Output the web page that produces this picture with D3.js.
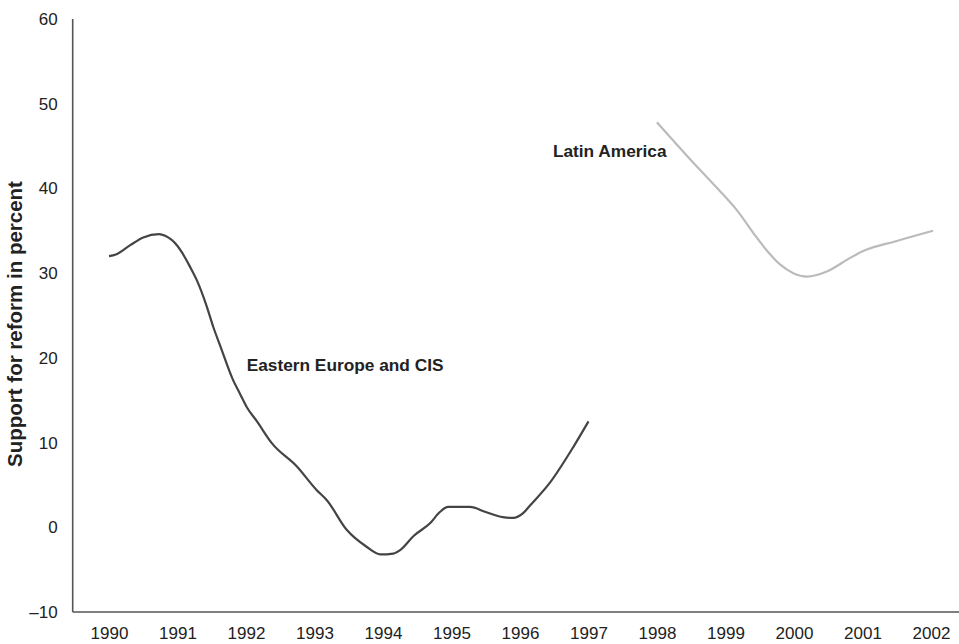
<!DOCTYPE html>
<html>
<head>
<meta charset="utf-8">
<script src="https://cdn.jsdelivr.net/npm/d3@7"></script>
<style>
  html, body { margin: 0; padding: 0; background: #fff; }
  svg { display: block; font-family: "Liberation Sans", Arial, Helvetica, sans-serif; }
</style>
</head>
<body>
<svg id="chart" width="959" height="644"></svg>
<script>
const xTicks = [1990, 1991, 1992, 1993, 1994, 1995, 1996, 1997, 1998, 1999, 2000, 2001, 2002];
const yTicks = [-10, 0, 10, 20, 30, 40, 50, 60];

const eeYears = [1990.0, 1990.1, 1990.31, 1990.5, 1990.73, 1990.82, 1991.0, 1991.06, 1991.18, 1991.28, 1991.43, 1991.52, 1991.62, 1991.81, 1991.91, 1992.01, 1992.16, 1992.38, 1992.74, 1993.03, 1993.18, 1993.47, 1993.76, 1993.96, 1994.15, 1994.25, 1994.45, 1994.69, 1994.83, 1994.95, 1995.27, 1995.5, 1995.75, 1995.9, 1996.05, 1996.15, 1996.44, 1996.78, 1997.0];
const eeValues = [32.0, 32.2, 33.3, 34.2, 34.6, 34.4, 33.2, 32.5, 30.8, 29.2, 26.0, 23.7, 21.5, 17.4, 15.8, 14.2, 12.5, 9.9, 7.2, 4.4, 3.2, -0.3, -2.3, -3.2, -3.1, -2.7, -1.0, 0.5, 1.8, 2.4, 2.4, 1.8, 1.2, 1.1, 1.7, 2.6, 5.3, 9.5, 12.5];

const laYears = [1998.0, 1998.5, 1999.02, 1999.16, 1999.41, 1999.6, 1999.8, 1999.99, 2000.19, 2000.48, 2000.82, 2001.01, 2001.5, 2002.03];
const laValues = [47.8, 43.3, 38.8, 37.5, 34.7, 32.7, 31.0, 30.0, 29.6, 30.2, 31.8, 32.6, 33.8, 35.0];

const seriesNames = ["Eastern Europe and CIS", "Latin America"];
const yTitle = "Support for reform in percent";

const FONT = "'Liberation Sans', Arial, Helvetica, sans-serif";
const svg = d3.select("#chart");
const x = d3.scaleLinear().domain([1990, 2002]).range([109, 931]);
const y = d3.scaleLinear().domain([-10, 60]).range([612, 19]);

// axes
const yAxis = svg.append("g").attr("transform", `translate(${x(1989.47)},0)`)
  .call(d3.axisLeft(y).tickValues(yTicks).tickSize(0).tickPadding(15)
    .tickFormat(d => d < 0 ? "\u2013" + Math.abs(d) : d));
const xAxis = svg.append("g").attr("transform", `translate(0,${y(-10)})`)
  .call(d3.axisBottom(x).tickValues(xTicks).tickSize(0).tickPadding(15).tickFormat(d3.format("d")));
xAxis.select(".domain").attr("d", `M${x(1989.47)},0H959`);
yAxis.select(".domain").attr("d", `M0,${y(60)}V${y(-10)}`);
[xAxis, yAxis].forEach(g => {
  g.attr("font-family", FONT);
  g.select(".domain").attr("stroke", "#555").attr("stroke-width", 1.6);
  g.selectAll("text").attr("font-size", 17).attr("fill", "#222");
});

// y title
svg.append("text")
  .attr("transform", `translate(22,324) rotate(-90)`)
  .attr("text-anchor", "middle").attr("font-family", FONT)
  .attr("font-size", 20.5).attr("font-weight", "bold").attr("fill", "#222")
  .text(yTitle);

const line = d3.line().x(d => x(d[0])).y(d => y(d[1])).curve(d3.curveMonotoneX);

svg.append("path")
  .datum(eeYears.map((t, i) => [t, eeValues[i]]))
  .attr("fill", "none").attr("stroke", "#444").attr("stroke-width", 2.2)
  .attr("d", line);

svg.append("path")
  .datum(laYears.map((t, i) => [t, laValues[i]]))
  .attr("fill", "none").attr("stroke", "#bbb").attr("stroke-width", 2.2)
  .attr("d", line);

svg.append("text")
  .attr("x", x(1992.01)).attr("y", y(18.45)).attr("font-family", FONT)
  .attr("font-size", 17.3).attr("font-weight", "bold").attr("fill", "#222")
  .text(seriesNames[0]);

svg.append("text")
  .attr("x", x(1996.48)).attr("y", y(43.7)).attr("font-family", FONT)
  .attr("font-size", 17.3).attr("font-weight", "bold").attr("fill", "#222")
  .text(seriesNames[1]);
</script>
</body>
</html>
